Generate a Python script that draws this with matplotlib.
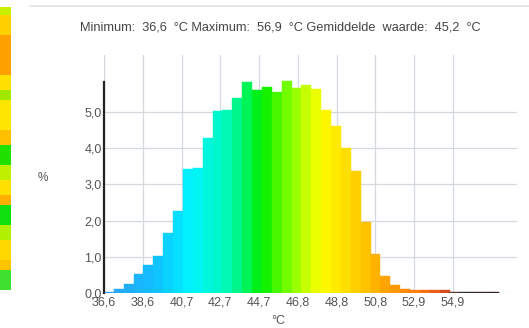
import numpy as np
import matplotlib
matplotlib.use("Agg")
import matplotlib.pyplot as plt
from matplotlib.colors import LinearSegmentedColormap
from matplotlib.lines import Line2D

plt.rcParams['font.family'] = ['Liberation Sans', 'DejaVu Sans']

# histogram data (% of pixels per temperature bin)
t_min = 36.6
bin_width = 0.518
percent = [0.04, 0.10, 0.24, 0.52, 0.76, 1.01, 1.65, 2.27, 3.42, 3.46,
           4.29, 5.03, 5.06, 5.40, 5.82, 5.60, 5.69, 5.55, 5.86, 5.66,
           5.75, 5.64, 5.05, 4.60, 4.00, 3.36, 1.95, 1.07, 0.46, 0.23,
           0.11, 0.08, 0.08, 0.09, 0.07, 0.04, 0.04, 0.04, 0.04, 0.04]

tick_values = [36.6, 38.63, 40.67, 42.7, 44.73, 46.77, 48.8, 50.83, 52.87, 54.9]
tick_labels = ['36,6', '38,6', '40,7', '42,7', '44,7', '46,8', '48,8', '50,8', '52,9', '54,9']
y_ticks = [0, 1, 2, 3, 4, 5]
y_labels = ['0,0', '1,0', '2,0', '3,0', '4,0', '5,0']

title = "Minimum:  36,6  °C Maximum:  56,9  °C Gemiddelde  waarde:  45,2  °C"

# thermal palette
palette = LinearSegmentedColormap.from_list('thermal', [
    (0.00, '#2f9ff0'), (0.13, '#10c0ff'), (0.22, '#00f4ff'), (0.32, '#00f8b0'),
    (0.40, '#00f000'), (0.48, '#90ff00'), (0.55, '#ffff00'), (0.64, '#ffd000'),
    (0.70, '#ffaa00'), (0.80, '#ff7a10'), (0.86, '#e05020'), (0.90, '#303030'),
    (1.00, '#402020')])

# left strip (piece of thermal image)
strip_edges = [7, 15, 35, 75, 90, 100, 130, 145, 165, 180, 195, 205, 225, 240, 260, 270, 290]
strip_colors = ['#c8f000', '#ffd000', '#ffa000', '#ffe000', '#a0e800', '#ffe600',
                '#ffc000', '#20e000', '#c0f000', '#ffe000', '#ffb000', '#10e010',
                '#b0f000', '#ffd800', '#ffc400', '#40e030']

W, H = 529, 328
fig = plt.figure(figsize=(W / 100, H / 100), dpi=100)

sa = fig.add_axes([0, 1 - 290 / H, 11 / W, 283 / H])
for y0, y1, c in zip(strip_edges[:-1], strip_edges[1:], strip_colors):
    sa.axhspan(y0, y1, color=c, lw=0)
sa.set_ylim(290, 7)
sa.set_xlim(0, 1)
sa.axis('off')

fig.add_artist(Line2D([30 / W, 1], [1 - 6 / H] * 2, color='#e2e2e2', lw=1.2))

ax = fig.add_axes([104 / W, 35 / H, 413 / W, 238 / H])
edges = t_min + bin_width * np.arange(len(percent) + 1)
centers = (edges[:-1] + edges[1:]) / 2
colors = palette((centers - edges[0]) / (edges[-1] - edges[0]))
ax.bar(edges[:-1], percent, width=bin_width, align='edge', color=colors,
       edgecolor=colors, lw=0.3, zorder=3)

ax.set_xlim(t_min, t_min + 413 / 19.06)
ax.set_ylim(0, 238 / 36.2)
ax.set_xticks(tick_values)
ax.set_xticklabels(tick_labels)
ax.set_yticks(y_ticks)
ax.set_yticklabels(y_labels)
ax.tick_params(length=0, labelsize=9, labelcolor='#555555')
ax.tick_params(axis='x', pad=2.5)
ax.tick_params(axis='y', pad=1.5)
ax.grid(True, color='#d6d8e0', lw=0.9, zorder=0)
for s in ['top', 'right', 'bottom']:
    ax.spines[s].set_visible(False)
ax.spines['left'].set_color('#222222')
ax.spines['left'].set_linewidth(1.6)
ax.spines['left'].set_bounds(0, 5.83)
ax.spines['left'].set_zorder(4)

fig.text(280 / W, 1 - 28 / H, title, ha='center', va='center', fontsize=9.2, color='#444444')
fig.text(43 / W, 1 - 178 / H, '%', ha='center', va='center', fontsize=8.5, color='#555555')
fig.text(278 / W, 1 - 321 / H, '°C', ha='center', va='center', fontsize=9, color='#555555')

fig.savefig('out.png', dpi=100)
